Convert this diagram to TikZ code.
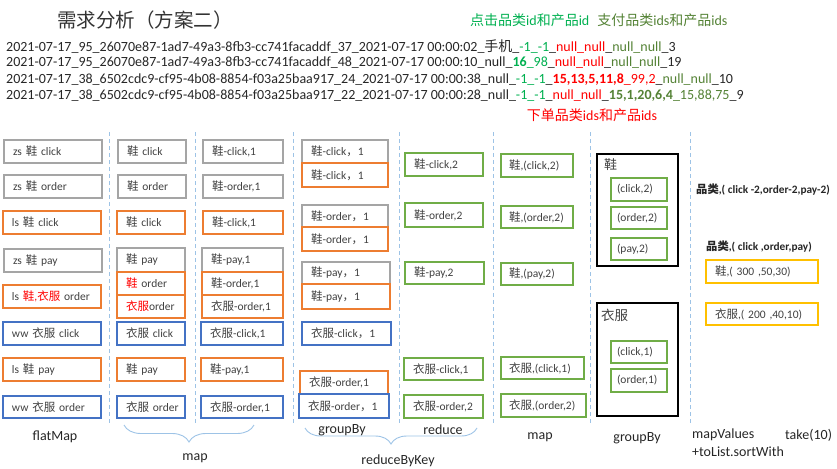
\documentclass[tikz,border=0pt]{standalone}
\usepackage{fontspec}
\setmainfont{Carlito}
\newfontfamily\cjk{Noto Sans CJK SC}
\usetikzlibrary{decorations.pathreplacing}
\newcommand\zh[1]{{\cjk #1}}
\definecolor{cgray}{HTML}{A5A5A5}
\definecolor{corange}{HTML}{ED7D31}
\definecolor{cblue}{HTML}{4472C4}
\definecolor{cgreen}{HTML}{70AD47}
\definecolor{cyellow}{HTML}{FFC000}
\definecolor{cdash}{HTML}{9DC3E6}
\definecolor{tgreen}{HTML}{00B050}
\definecolor{tolive}{HTML}{548235}
\definecolor{tred}{HTML}{FF0000}
\definecolor{ttext}{HTML}{404040}
\tikzset{
  boxstyle/.style={draw, line width=1.1pt, inner ysep=0pt, align=left,
    font=\fontsize{11.5}{13}\selectfont, text=ttext},
  lbl/.style={inner sep=0pt, font=\fontsize{14}{16}\selectfont, text=black!85},
  dataline/.style={inner sep=0pt, anchor=west, font=\fontsize{14}{16}\selectfont, text=black!85},
  sepline/.style={cdash, line width=0.9pt, dash pattern=on 4pt off 3pt},
  bracestyle/.style={cdash, line width=0.9pt, decorate},
}
% \bx[pad]{name}{colour}{x1}{y1}{x2}{y2}{text}
\newcommand\bx[8][9]{%
  \pgfmathsetmacro\bxw{#6-#4}\pgfmathsetmacro\bxh{#7-#5}%
  \pgfmathsetmacro\bxcx{(#4+#6)/2}\pgfmathsetmacro\bxcy{(#5+#7)/2}%
  \pgfmathsetmacro\bxtw{#6-#4-2*#1}%
  \node[boxstyle, draw=#3, inner xsep=#1pt, minimum width=\bxw pt, minimum height=\bxh pt, text width=\bxtw pt] (#2) at (\bxcx,\bxcy) {\mbox{#8}};}
\begin{document}
\begin{tikzpicture}[x=1pt,y=-1pt]
\useasboundingbox (0,0) rectangle (837,468);

% title and headers
\node[inner sep=0pt, anchor=west, font=\cjk\fontsize{19.5}{21}\selectfont, text=black!80] (title) at (57,20) {需求分析（方案二）};
\node[inner sep=0pt, anchor=west, font=\fontsize{14}{16}\selectfont] (hdr) at (470,20)
  {\textcolor{tgreen}{\zh{点击品类}id\zh{和产品}id}\hspace{8pt}\textcolor{tolive}{\zh{支付品类}ids\zh{和产品}ids}};
\node[inner sep=0pt, font=\fontsize{14}{16}\selectfont, text=tred] (hdr2) at (592,115) {\zh{下单品类}ids\zh{和产品}ids};

% data lines
\node[dataline] (l1) at (6,47) {2021-07-17\_95\_26070e87-1ad7-49a3-8fb3-cc741facaddf\_37\_2021-07-17 00:00:02\_\zh{手机}\_\textcolor{tgreen}{-1\_-1}\_\textcolor{tred}{null\_null}\_\textcolor{tolive}{null\_null}\_3};
\node[dataline] (l2) at (6,63) {2021-07-17\_95\_26070e87-1ad7-49a3-8fb3-cc741facaddf\_48\_2021-07-17 00:00:10\_null\_\textcolor{tgreen}{\textbf{16}\_98}\_\textcolor{tred}{null\_null}\_\textcolor{tolive}{null\_null}\_19};
\node[dataline] (l3) at (6,80) {2021-07-17\_38\_6502cdc9-cf95-4b08-8854-f03a25baa917\_24\_2021-07-17 00:00:38\_null\_\textcolor{tgreen}{-1\_-1}\_\textcolor{tred}{\textbf{15,13,5,11,8}\_99,2}\_\textcolor{tolive}{null\_null}\_10};
\node[dataline] (l4) at (6,96) {2021-07-17\_38\_6502cdc9-cf95-4b08-8854-f03a25baa917\_22\_2021-07-17 00:00:28\_null\_\textcolor{tgreen}{-1\_-1}\_\textcolor{tred}{null\_null}\_\textcolor{tolive}{\textbf{15,1,20,6,4}\_15,88,75}\_9};

% separators
\foreach \xx in {109,195,293,399,493,590,690}
  \draw[sepline] (\xx,132) -- (\xx,423);

% column 1: flatMap
\bx{a1}{cgray}{4}{140}{102}{163}{zs \zh{鞋} click}
\bx{a2}{cgray}{4}{175}{102}{198}{zs \zh{鞋} order}
\bx{a3}{corange}{3}{211}{101}{234}{ls \zh{鞋} click}
\bx{a4}{cgray}{4}{249}{102}{272}{zs \zh{鞋} pay}
\bx{a5}{corange}{3}{285}{101}{308}{ls \textcolor{tred}{\zh{鞋},\zh{衣服}} order}
\bx{a6}{cblue}{3}{322}{101}{345}{ww \zh{衣服} click}
\bx{a7}{corange}{3}{358}{101}{381}{ls \zh{鞋} pay}
\bx{a8}{cblue}{3}{396}{101}{418}{ww \zh{衣服} order}

% column 2: map
\bx{b1}{cgray}{118}{140}{186}{163}{\zh{鞋} click}
\bx{b2}{cgray}{118}{175}{186}{198}{\zh{鞋} order}
\bx{b3}{corange}{117}{211}{185}{234}{\zh{鞋} click}
\bx{b4}{cgray}{117}{248}{185}{272}{\zh{鞋} pay}
\bx{b5}{corange}{117}{272}{185}{295}{\textcolor{tred}{\zh{鞋}} order}
\bx{b6}{corange}{117}{295}{185}{318}{\textcolor{tred}{\zh{衣服}}order}
\bx{b7}{cblue}{117}{322}{185}{345}{\zh{衣服} click}
\bx{b8}{corange}{117}{358}{185}{381}{\zh{鞋} pay}
\bx{b9}{cblue}{117}{396}{185}{418}{\zh{衣服} order}

% column 3: map
\bx{c1}{cgray}{203}{140}{283}{163}{\zh{鞋}-click,1}
\bx{c2}{cgray}{203}{175}{283}{198}{\zh{鞋}-order,1}
\bx{c3}{corange}{203}{211}{283}{234}{\zh{鞋}-click,1}
\bx{c4}{cgray}{202}{248}{283}{272}{\zh{鞋}-pay,1}
\bx{c5}{corange}{202}{272}{283}{295}{\zh{鞋}-order,1}
\bx{c6}{corange}{202}{295}{283}{318}{\zh{衣服}-order,1}
\bx{c7}{cblue}{201}{322}{283}{345}{\zh{衣服}-click,1}
\bx{c8}{corange}{201}{358}{283}{381}{\zh{鞋}-pay,1}
\bx{c9}{cblue}{201}{396}{283}{418}{\zh{衣服}-order,1}

% column 4: groupBy
\bx{d1}{cgray}{302}{140}{388}{163}{\zh{鞋}-click\zh{，}1}
\bx{d2}{corange}{302}{163}{388}{187}{\zh{鞋}-click\zh{，}1}
\bx{d3}{cgray}{302}{205}{388}{227}{\zh{鞋}-order\zh{，}1}
\bx{d4}{corange}{302}{227}{388}{251}{\zh{鞋}-order\zh{，}1}
\bx{d5}{cgray}{302}{262}{390}{284}{\zh{鞋}-pay\zh{，}1}
\bx{d6}{corange}{302}{284}{390}{309}{\zh{鞋}-pay\zh{，}1}
\bx{d7}{cblue}{302}{322}{391}{345}{\zh{衣服}-click\zh{，}1}
\bx{d8}{corange}{300}{371}{388}{394}{\zh{衣服}-order,1}
\bx{d9}{cblue}{299}{394}{389}{418}{\zh{衣服}-order\zh{，}1}

% column 5: reduce
\bx{e1}{cgreen}{405}{153}{483}{176}{\zh{鞋}-click,2}
\bx{e2}{cgreen}{405}{203}{483}{227}{\zh{鞋}-order,2}
\bx{e3}{cgreen}{405}{262}{484}{284}{\zh{鞋}-pay,2}
\bx{e4}{cgreen}{404}{358}{483}{380}{\zh{衣服}-click,1}
\bx{e5}{cgreen}{404}{395}{483}{418}{\zh{衣服}-order,2}

% column 6: map
\bx[8]{f1}{cgreen}{501}{154}{573}{177}{\zh{鞋},(click,2)}
\bx[8]{f2}{cgreen}{501}{206}{573}{228}{\zh{鞋},(order,2)}
\bx[8]{f3}{cgreen}{501}{263}{573}{285}{\zh{鞋},(pay,2)}
\bx[8]{f4}{cgreen}{501}{357}{584}{379}{\zh{衣服},(click,1)}
\bx[8]{f5}{cgreen}{501}{394}{586}{417}{\zh{衣服},(order,2)}

% column 7: groupBy
\bx{g1}{black}{597}{154}{678}{266}{}
\node[inner sep=0pt, anchor=west, font=\cjk\fontsize{13}{15}\selectfont, text=ttext] (g1l) at (604,165) {鞋};
\bx[6]{g1a}{cgreen}{611}{178}{667}{201}{(click,2)}
\bx[6]{g1b}{cgreen}{611}{207}{667}{229}{(order,2)}
\bx[6]{g1c}{cgreen}{611}{238}{667}{260}{(pay,2)}
\bx{g2}{black}{597}{303}{678}{416}{}
\node[inner sep=0pt, anchor=west, font=\cjk\fontsize{13.5}{15}\selectfont, text=ttext] (g2l) at (601,315) {衣服};
\bx[6]{g2a}{cgreen}{611}{341}{667}{363}{(click,1)}
\bx[6]{g2b}{cgreen}{611}{369}{667}{392}{(order,1)}

% right side
\node[inner sep=0pt, anchor=west, font=\bfseries\fontsize{11.3}{13}\selectfont, text=black!85] (r1) at (696,190) {\zh{品类},( click -2,order-2,pay-2)};
\node[inner sep=0pt, anchor=west, font=\bfseries\fontsize{11.3}{13}\selectfont, text=black!85] (r2) at (706,247) {\zh{品类},( click ,order,pay)};
\bx{h1}{cyellow}{706}{260}{818}{283}{\zh{鞋},( 300 ,50,30)}
\bx{h2}{cyellow}{706}{303}{818}{325}{\zh{衣服},( 200 ,40,10)}

% braces
\draw[bracestyle, decoration={brace, mirror, amplitude=17pt}] (124,425) -- (254,425);
\draw[bracestyle, decoration={brace, mirror, amplitude=16pt}] (305,428) -- (477,428);

% bottom labels
\node[lbl] (t1) at (55,437) {flatMap};
\node[lbl] (t2) at (195,458) {map};
\node[lbl] (t3) at (342,430) {groupBy};
\node[lbl] (t4) at (443,430) {reduce};
\node[lbl] (t5) at (398,461) {reduceByKey};
\node[lbl] (t6) at (540,437) {map};
\node[lbl] (t7) at (637,438) {groupBy};
\node[lbl, anchor=west] (t8) at (692,435) {mapValues};
\node[lbl, anchor=west] (t9) at (692,452) {+toList.sortWith};
\node[lbl, anchor=west] (t10) at (785,435) {take(10)};
\end{tikzpicture}
\end{document}
